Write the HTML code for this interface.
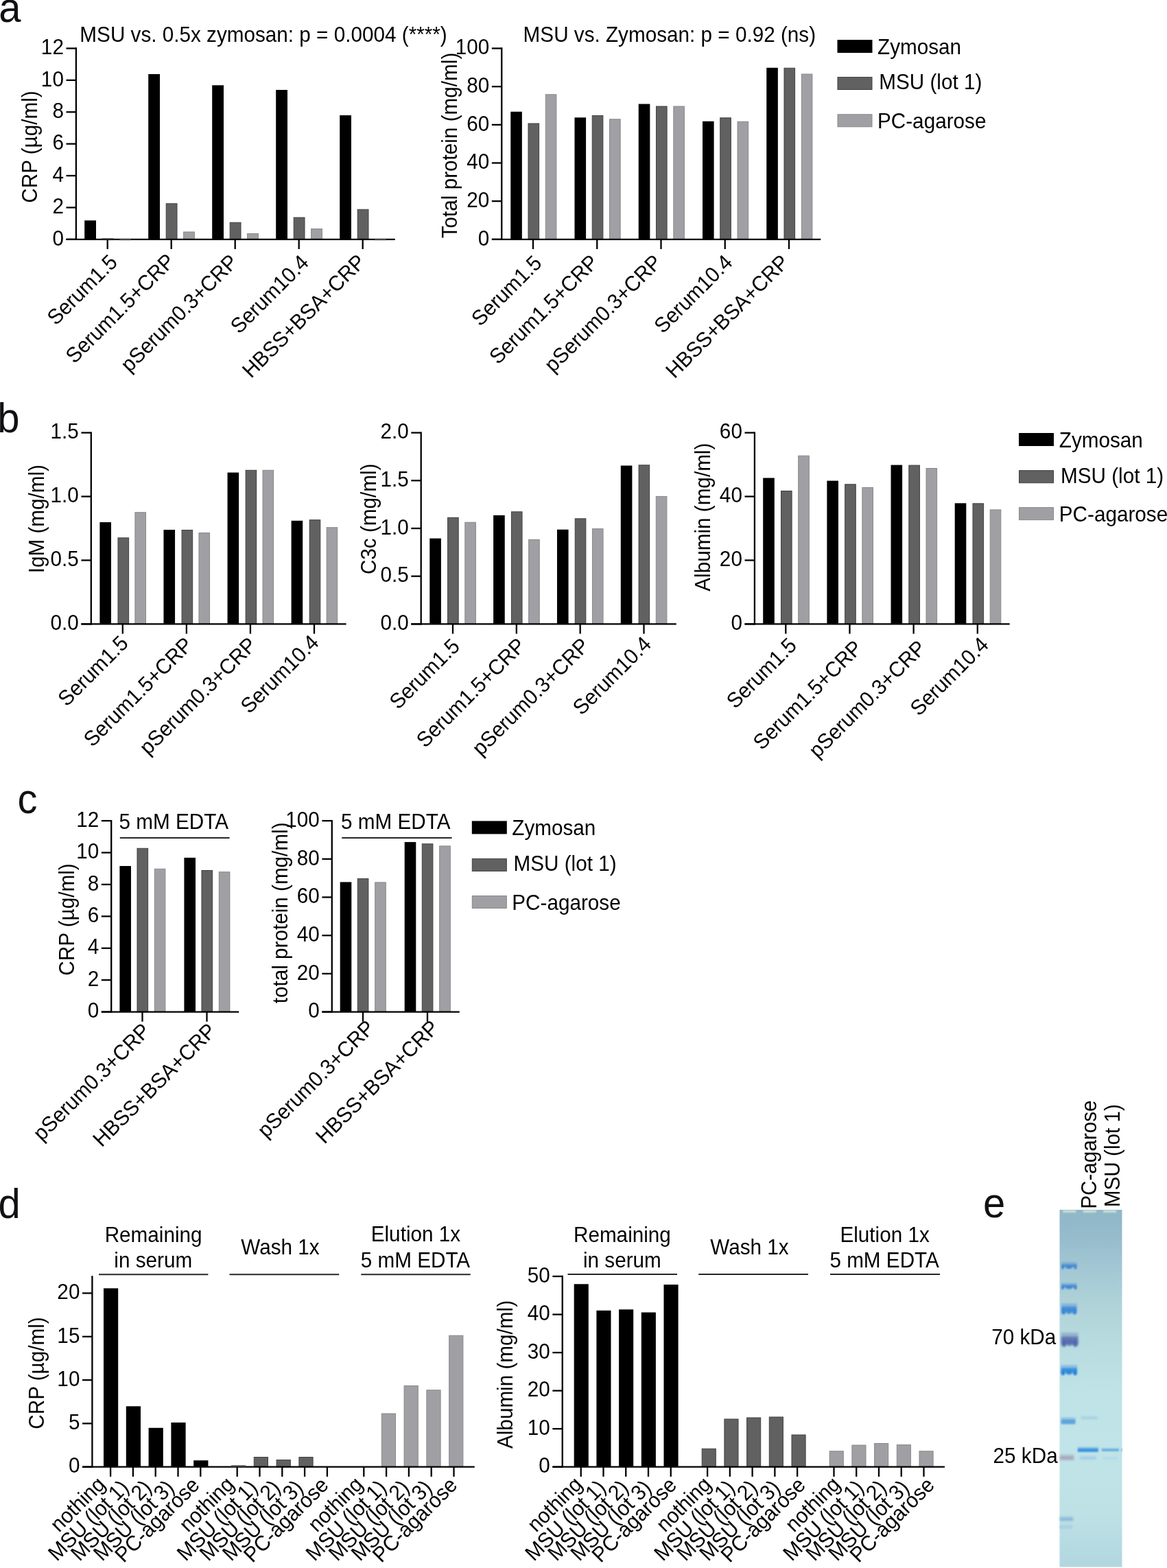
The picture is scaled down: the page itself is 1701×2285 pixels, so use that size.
<!DOCTYPE html>
<html><head><meta charset="utf-8"><title>Figure</title>
<style>
html,body{margin:0;padding:0;background:#fff;}
svg{display:block;}
text{font-family:"Liberation Sans", Arial, Helvetica, sans-serif;}
</style></head>
<body>
<svg width="1701" height="2285" viewBox="0 0 1701 2285">
<rect x="0" y="0" width="1701" height="2285" fill="#fff"/>
<text font-size="58" transform="translate(-1.80 32.20) scale(1 1.045)" fill="#111114">a</text>
<rect x="123.20" y="321.25" width="16.80" height="27.55" fill="#000000"/>
<rect x="216.20" y="108.00" width="16.80" height="240.80" fill="#000000"/>
<rect x="242.20" y="296.75" width="15.80" height="52.05" fill="#616161" stroke="#404040" stroke-width="1.0"/>
<rect x="267.60" y="338.00" width="15.80" height="10.80" fill="#a09fa4" stroke="#88888a" stroke-width="1.0"/>
<rect x="309.20" y="124.25" width="16.80" height="224.55" fill="#000000"/>
<rect x="335.20" y="324.25" width="15.80" height="24.55" fill="#616161" stroke="#404040" stroke-width="1.0"/>
<rect x="360.60" y="340.50" width="15.80" height="8.30" fill="#a09fa4" stroke="#88888a" stroke-width="1.0"/>
<rect x="402.20" y="131.00" width="16.80" height="217.80" fill="#000000"/>
<rect x="428.20" y="317.00" width="15.80" height="31.80" fill="#616161" stroke="#404040" stroke-width="1.0"/>
<rect x="453.60" y="333.50" width="15.80" height="15.30" fill="#a09fa4" stroke="#88888a" stroke-width="1.0"/>
<rect x="495.20" y="168.00" width="16.80" height="180.80" fill="#000000"/>
<rect x="521.20" y="305.25" width="15.80" height="43.55" fill="#616161" stroke="#404040" stroke-width="1.0"/>
<line x1="110.90" y1="69.35" x2="110.90" y2="349.95" stroke="#000" stroke-width="2.3" stroke-linecap="butt"/>
<line x1="96.50" y1="348.80" x2="575.75" y2="348.80" stroke="#000" stroke-width="2.3" stroke-linecap="butt"/>
<line x1="96.50" y1="348.80" x2="110.90" y2="348.80" stroke="#000" stroke-width="2.3" stroke-linecap="butt"/>
<text font-size="29.7" text-anchor="end" transform="translate(92.90 357.50) scale(1 1.045)" fill="#000">0</text>
<line x1="96.50" y1="302.42" x2="110.90" y2="302.42" stroke="#000" stroke-width="2.3" stroke-linecap="butt"/>
<text font-size="29.7" text-anchor="end" transform="translate(92.90 311.12) scale(1 1.045)" fill="#000">2</text>
<line x1="96.50" y1="256.03" x2="110.90" y2="256.03" stroke="#000" stroke-width="2.3" stroke-linecap="butt"/>
<text font-size="29.7" text-anchor="end" transform="translate(92.90 264.73) scale(1 1.045)" fill="#000">4</text>
<line x1="96.50" y1="209.65" x2="110.90" y2="209.65" stroke="#000" stroke-width="2.3" stroke-linecap="butt"/>
<text font-size="29.7" text-anchor="end" transform="translate(92.90 218.35) scale(1 1.045)" fill="#000">6</text>
<line x1="96.50" y1="163.27" x2="110.90" y2="163.27" stroke="#000" stroke-width="2.3" stroke-linecap="butt"/>
<text font-size="29.7" text-anchor="end" transform="translate(92.90 171.97) scale(1 1.045)" fill="#000">8</text>
<line x1="96.50" y1="116.88" x2="110.90" y2="116.88" stroke="#000" stroke-width="2.3" stroke-linecap="butt"/>
<text font-size="29.7" text-anchor="end" transform="translate(92.90 125.58) scale(1 1.045)" fill="#000">10</text>
<line x1="96.50" y1="70.50" x2="110.90" y2="70.50" stroke="#000" stroke-width="2.3" stroke-linecap="butt"/>
<text font-size="29.7" text-anchor="end" transform="translate(92.90 79.20) scale(1 1.045)" fill="#000">12</text>
<line x1="156.70" y1="348.80" x2="156.70" y2="363.00" stroke="#000" stroke-width="2.3" stroke-linecap="butt"/>
<line x1="249.70" y1="348.80" x2="249.70" y2="363.00" stroke="#000" stroke-width="2.3" stroke-linecap="butt"/>
<line x1="342.70" y1="348.80" x2="342.70" y2="363.00" stroke="#000" stroke-width="2.3" stroke-linecap="butt"/>
<line x1="435.70" y1="348.80" x2="435.70" y2="363.00" stroke="#000" stroke-width="2.3" stroke-linecap="butt"/>
<line x1="528.70" y1="348.80" x2="528.70" y2="363.00" stroke="#000" stroke-width="2.3" stroke-linecap="butt"/>
<text font-size="29.8" text-anchor="end" transform="translate(172.90 383.90) rotate(-45) scale(1 1.045)" fill="#000">Serum1.5</text>
<text font-size="29.8" text-anchor="end" transform="translate(256.50 382.80) rotate(-45) scale(1 1.045)" fill="#000">Serum1.5+CRP</text>
<text font-size="29.8" text-anchor="end" transform="translate(348.60 383.80) rotate(-45) scale(1 1.045)" fill="#000">pSerum0.3+CRP</text>
<text font-size="29.8" text-anchor="end" transform="translate(451.80 384.60) rotate(-45) scale(1 1.045)" fill="#000">Serum10.4</text>
<text font-size="29.8" text-anchor="end" transform="translate(534.50 383.60) rotate(-45) scale(1 1.045)" fill="#000">HBSS+BSA+CRP</text>
<rect x="149.20" y="347.70" width="15.80" height="0.80" fill="#616161" stroke="#404040" stroke-width="1.0"/>
<rect x="174.60" y="347.70" width="15.80" height="0.80" fill="#a09fa4" stroke="#88888a" stroke-width="1.0"/>
<rect x="546.60" y="347.70" width="15.80" height="0.80" fill="#a09fa4" stroke="#88888a" stroke-width="1.0"/>
<text font-size="29.7" text-anchor="middle" transform="translate(54.30 214.00) rotate(-90) scale(1 1.045)" fill="#000">CRP (µg/ml)</text>
<text font-size="29.7" transform="translate(116.35 60.75) scale(1 1.045)" fill="#000">MSU vs. 0.5x zymosan: p = 0.0004 (****)</text>
<rect x="744.25" y="162.75" width="16.60" height="186.05" fill="#000000"/>
<rect x="770.00" y="180.00" width="15.60" height="168.80" fill="#616161" stroke="#404040" stroke-width="1.0"/>
<rect x="795.30" y="137.75" width="15.60" height="211.05" fill="#a09fa4" stroke="#88888a" stroke-width="1.0"/>
<rect x="837.50" y="171.25" width="16.60" height="177.55" fill="#000000"/>
<rect x="863.25" y="168.50" width="15.60" height="180.30" fill="#616161" stroke="#404040" stroke-width="1.0"/>
<rect x="888.55" y="173.75" width="15.60" height="175.05" fill="#a09fa4" stroke="#88888a" stroke-width="1.0"/>
<rect x="930.75" y="151.50" width="16.60" height="197.30" fill="#000000"/>
<rect x="956.50" y="155.00" width="15.60" height="193.80" fill="#616161" stroke="#404040" stroke-width="1.0"/>
<rect x="981.80" y="155.00" width="15.60" height="193.80" fill="#a09fa4" stroke="#88888a" stroke-width="1.0"/>
<rect x="1024.00" y="176.75" width="16.60" height="172.05" fill="#000000"/>
<rect x="1049.75" y="171.75" width="15.60" height="177.05" fill="#616161" stroke="#404040" stroke-width="1.0"/>
<rect x="1075.05" y="177.25" width="15.60" height="171.55" fill="#a09fa4" stroke="#88888a" stroke-width="1.0"/>
<rect x="1117.25" y="98.75" width="16.60" height="250.05" fill="#000000"/>
<rect x="1143.00" y="99.25" width="15.60" height="249.55" fill="#616161" stroke="#404040" stroke-width="1.0"/>
<rect x="1168.30" y="108.00" width="15.60" height="240.80" fill="#a09fa4" stroke="#88888a" stroke-width="1.0"/>
<line x1="731.25" y1="69.35" x2="731.25" y2="349.95" stroke="#000" stroke-width="2.3" stroke-linecap="butt"/>
<line x1="716.85" y1="348.80" x2="1196.25" y2="348.80" stroke="#000" stroke-width="2.3" stroke-linecap="butt"/>
<line x1="716.85" y1="348.80" x2="731.25" y2="348.80" stroke="#000" stroke-width="2.3" stroke-linecap="butt"/>
<text font-size="29.7" text-anchor="end" transform="translate(713.25 357.50) scale(1 1.045)" fill="#000">0</text>
<line x1="716.85" y1="293.14" x2="731.25" y2="293.14" stroke="#000" stroke-width="2.3" stroke-linecap="butt"/>
<text font-size="29.7" text-anchor="end" transform="translate(713.25 301.84) scale(1 1.045)" fill="#000">20</text>
<line x1="716.85" y1="237.48" x2="731.25" y2="237.48" stroke="#000" stroke-width="2.3" stroke-linecap="butt"/>
<text font-size="29.7" text-anchor="end" transform="translate(713.25 246.18) scale(1 1.045)" fill="#000">40</text>
<line x1="716.85" y1="181.82" x2="731.25" y2="181.82" stroke="#000" stroke-width="2.3" stroke-linecap="butt"/>
<text font-size="29.7" text-anchor="end" transform="translate(713.25 190.52) scale(1 1.045)" fill="#000">60</text>
<line x1="716.85" y1="126.16" x2="731.25" y2="126.16" stroke="#000" stroke-width="2.3" stroke-linecap="butt"/>
<text font-size="29.7" text-anchor="end" transform="translate(713.25 134.86) scale(1 1.045)" fill="#000">80</text>
<line x1="716.85" y1="70.50" x2="731.25" y2="70.50" stroke="#000" stroke-width="2.3" stroke-linecap="butt"/>
<text font-size="29.7" text-anchor="end" transform="translate(713.25 79.20) scale(1 1.045)" fill="#000">100</text>
<line x1="777.00" y1="348.80" x2="777.00" y2="363.00" stroke="#000" stroke-width="2.3" stroke-linecap="butt"/>
<line x1="870.25" y1="348.80" x2="870.25" y2="363.00" stroke="#000" stroke-width="2.3" stroke-linecap="butt"/>
<line x1="963.50" y1="348.80" x2="963.50" y2="363.00" stroke="#000" stroke-width="2.3" stroke-linecap="butt"/>
<line x1="1056.75" y1="348.80" x2="1056.75" y2="363.00" stroke="#000" stroke-width="2.3" stroke-linecap="butt"/>
<line x1="1150.00" y1="348.80" x2="1150.00" y2="363.00" stroke="#000" stroke-width="2.3" stroke-linecap="butt"/>
<text font-size="29.8" text-anchor="end" transform="translate(791.40 385.30) rotate(-45) scale(1 1.045)" fill="#000">Serum1.5</text>
<text font-size="29.8" text-anchor="end" transform="translate(874.00 384.10) rotate(-45) scale(1 1.045)" fill="#000">Serum1.5+CRP</text>
<text font-size="29.8" text-anchor="end" transform="translate(966.20 384.10) rotate(-45) scale(1 1.045)" fill="#000">pSerum0.3+CRP</text>
<text font-size="29.8" text-anchor="end" transform="translate(1069.40 384.30) rotate(-45) scale(1 1.045)" fill="#000">Serum10.4</text>
<text font-size="29.8" text-anchor="end" transform="translate(1151.80 384.10) rotate(-45) scale(1 1.045)" fill="#000">HBSS+BSA+CRP</text>
<text font-size="29.7" text-anchor="middle" transform="translate(665.80 212.00) rotate(-90) scale(1 1.045)" fill="#000">Total protein (mg/ml)</text>
<text font-size="29.7" transform="translate(762.60 60.75) scale(1 1.045)" fill="#000">MSU vs. Zymosan: p = 0.92 (ns)</text>
<rect x="1220.50" y="58.00" width="51.00" height="19.00" fill="#000000"/>
<text font-size="29.7" transform="translate(1279.00 78.60) scale(1 1.045)" fill="#000">Zymosan</text>
<rect x="1221.00" y="112.50" width="50.00" height="18.00" fill="#616161" stroke="#404040" stroke-width="1.0"/>
<text font-size="29.7" transform="translate(1281.20 130.30) scale(1 1.045)" fill="#000">MSU (lot 1)</text>
<rect x="1221.00" y="166.75" width="50.00" height="18.00" fill="#a09fa4" stroke="#88888a" stroke-width="1.0"/>
<text font-size="29.7" transform="translate(1279.00 186.85) scale(1 1.045)" fill="#000">PC-agarose</text>
<text font-size="58" transform="translate(-3.80 630.00) scale(1 1.045)" fill="#111114">b</text>
<rect x="145.40" y="761.00" width="16.60" height="148.40" fill="#000000"/>
<rect x="172.00" y="783.80" width="15.60" height="125.60" fill="#616161" stroke="#404040" stroke-width="1.0"/>
<rect x="196.90" y="746.70" width="15.60" height="162.70" fill="#a09fa4" stroke="#88888a" stroke-width="1.0"/>
<rect x="238.47" y="772.00" width="16.60" height="137.40" fill="#000000"/>
<rect x="265.07" y="772.50" width="15.60" height="136.90" fill="#616161" stroke="#404040" stroke-width="1.0"/>
<rect x="289.97" y="776.60" width="15.60" height="132.80" fill="#a09fa4" stroke="#88888a" stroke-width="1.0"/>
<rect x="331.54" y="688.60" width="16.60" height="220.80" fill="#000000"/>
<rect x="358.14" y="685.30" width="15.60" height="224.10" fill="#616161" stroke="#404040" stroke-width="1.0"/>
<rect x="383.04" y="685.30" width="15.60" height="224.10" fill="#a09fa4" stroke="#88888a" stroke-width="1.0"/>
<rect x="424.61" y="758.80" width="16.60" height="150.60" fill="#000000"/>
<rect x="451.21" y="757.70" width="15.60" height="151.70" fill="#616161" stroke="#404040" stroke-width="1.0"/>
<rect x="476.11" y="768.70" width="15.60" height="140.70" fill="#a09fa4" stroke="#88888a" stroke-width="1.0"/>
<line x1="132.80" y1="629.45" x2="132.80" y2="910.55" stroke="#000" stroke-width="2.3" stroke-linecap="butt"/>
<line x1="118.40" y1="909.40" x2="504.60" y2="909.40" stroke="#000" stroke-width="2.3" stroke-linecap="butt"/>
<line x1="118.40" y1="909.40" x2="132.80" y2="909.40" stroke="#000" stroke-width="2.3" stroke-linecap="butt"/>
<text font-size="29.7" text-anchor="end" transform="translate(114.80 918.10) scale(1 1.045)" fill="#000">0.0</text>
<line x1="118.40" y1="816.47" x2="132.80" y2="816.47" stroke="#000" stroke-width="2.3" stroke-linecap="butt"/>
<text font-size="29.7" text-anchor="end" transform="translate(114.80 825.17) scale(1 1.045)" fill="#000">0.5</text>
<line x1="118.40" y1="723.53" x2="132.80" y2="723.53" stroke="#000" stroke-width="2.3" stroke-linecap="butt"/>
<text font-size="29.7" text-anchor="end" transform="translate(114.80 732.23) scale(1 1.045)" fill="#000">1.0</text>
<line x1="118.40" y1="630.60" x2="132.80" y2="630.60" stroke="#000" stroke-width="2.3" stroke-linecap="butt"/>
<text font-size="29.7" text-anchor="end" transform="translate(114.80 639.30) scale(1 1.045)" fill="#000">1.5</text>
<line x1="178.80" y1="909.40" x2="178.80" y2="923.60" stroke="#000" stroke-width="2.3" stroke-linecap="butt"/>
<line x1="271.87" y1="909.40" x2="271.87" y2="923.60" stroke="#000" stroke-width="2.3" stroke-linecap="butt"/>
<line x1="364.94" y1="909.40" x2="364.94" y2="923.60" stroke="#000" stroke-width="2.3" stroke-linecap="butt"/>
<line x1="458.01" y1="909.40" x2="458.01" y2="923.60" stroke="#000" stroke-width="2.3" stroke-linecap="butt"/>
<text font-size="29.8" text-anchor="end" transform="translate(188.70 939.30) rotate(-45) scale(1 1.045)" fill="#000">Serum1.5</text>
<text font-size="29.8" text-anchor="end" transform="translate(282.80 941.70) rotate(-45) scale(1 1.045)" fill="#000">Serum1.5+CRP</text>
<text font-size="29.8" text-anchor="end" transform="translate(375.90 941.70) rotate(-45) scale(1 1.045)" fill="#000">pSerum0.3+CRP</text>
<text font-size="29.8" text-anchor="end" transform="translate(466.50 938.30) rotate(-45) scale(1 1.045)" fill="#000">Serum10.4</text>
<text font-size="29.7" text-anchor="middle" transform="translate(63.80 756.20) rotate(-90) scale(1 1.045)" fill="#000">IgM (mg/ml)</text>
<rect x="626.30" y="784.60" width="16.60" height="124.80" fill="#000000"/>
<rect x="652.60" y="754.25" width="15.60" height="155.15" fill="#616161" stroke="#404040" stroke-width="1.0"/>
<rect x="677.80" y="761.20" width="15.60" height="148.20" fill="#a09fa4" stroke="#88888a" stroke-width="1.0"/>
<rect x="719.13" y="750.90" width="16.60" height="158.50" fill="#000000"/>
<rect x="745.43" y="745.80" width="15.60" height="163.60" fill="#616161" stroke="#404040" stroke-width="1.0"/>
<rect x="770.63" y="786.40" width="15.60" height="123.00" fill="#a09fa4" stroke="#88888a" stroke-width="1.0"/>
<rect x="811.96" y="771.70" width="16.60" height="137.70" fill="#000000"/>
<rect x="838.26" y="755.80" width="15.60" height="153.60" fill="#616161" stroke="#404040" stroke-width="1.0"/>
<rect x="863.46" y="770.60" width="15.60" height="138.80" fill="#a09fa4" stroke="#88888a" stroke-width="1.0"/>
<rect x="904.79" y="678.50" width="16.60" height="230.90" fill="#000000"/>
<rect x="931.09" y="677.80" width="15.60" height="231.60" fill="#616161" stroke="#404040" stroke-width="1.0"/>
<rect x="956.29" y="723.40" width="15.60" height="186.00" fill="#a09fa4" stroke="#88888a" stroke-width="1.0"/>
<line x1="613.70" y1="629.45" x2="613.70" y2="910.55" stroke="#000" stroke-width="2.3" stroke-linecap="butt"/>
<line x1="599.30" y1="909.40" x2="985.80" y2="909.40" stroke="#000" stroke-width="2.3" stroke-linecap="butt"/>
<line x1="599.30" y1="909.40" x2="613.70" y2="909.40" stroke="#000" stroke-width="2.3" stroke-linecap="butt"/>
<text font-size="29.7" text-anchor="end" transform="translate(595.70 918.10) scale(1 1.045)" fill="#000">0.0</text>
<line x1="599.30" y1="839.70" x2="613.70" y2="839.70" stroke="#000" stroke-width="2.3" stroke-linecap="butt"/>
<text font-size="29.7" text-anchor="end" transform="translate(595.70 848.40) scale(1 1.045)" fill="#000">0.5</text>
<line x1="599.30" y1="770.00" x2="613.70" y2="770.00" stroke="#000" stroke-width="2.3" stroke-linecap="butt"/>
<text font-size="29.7" text-anchor="end" transform="translate(595.70 778.70) scale(1 1.045)" fill="#000">1.0</text>
<line x1="599.30" y1="700.30" x2="613.70" y2="700.30" stroke="#000" stroke-width="2.3" stroke-linecap="butt"/>
<text font-size="29.7" text-anchor="end" transform="translate(595.70 709.00) scale(1 1.045)" fill="#000">1.5</text>
<line x1="599.30" y1="630.60" x2="613.70" y2="630.60" stroke="#000" stroke-width="2.3" stroke-linecap="butt"/>
<text font-size="29.7" text-anchor="end" transform="translate(595.70 639.30) scale(1 1.045)" fill="#000">2.0</text>
<line x1="660.00" y1="909.40" x2="660.00" y2="923.60" stroke="#000" stroke-width="2.3" stroke-linecap="butt"/>
<line x1="752.83" y1="909.40" x2="752.83" y2="923.60" stroke="#000" stroke-width="2.3" stroke-linecap="butt"/>
<line x1="845.66" y1="909.40" x2="845.66" y2="923.60" stroke="#000" stroke-width="2.3" stroke-linecap="butt"/>
<line x1="938.49" y1="909.40" x2="938.49" y2="923.60" stroke="#000" stroke-width="2.3" stroke-linecap="butt"/>
<text font-size="29.8" text-anchor="end" transform="translate(671.90 943.70) rotate(-45) scale(1 1.045)" fill="#000">Serum1.5</text>
<text font-size="29.8" text-anchor="end" transform="translate(767.80 942.80) rotate(-45) scale(1 1.045)" fill="#000">Serum1.5+CRP</text>
<text font-size="29.8" text-anchor="end" transform="translate(860.90 942.80) rotate(-45) scale(1 1.045)" fill="#000">pSerum0.3+CRP</text>
<text font-size="29.8" text-anchor="end" transform="translate(950.90 940.50) rotate(-45) scale(1 1.045)" fill="#000">Serum10.4</text>
<text font-size="29.7" text-anchor="middle" transform="translate(548.00 756.30) rotate(-90) scale(1 1.045)" fill="#000">C3c (mg/ml)</text>
<rect x="1112.20" y="696.50" width="16.60" height="212.90" fill="#000000"/>
<rect x="1138.50" y="715.50" width="15.60" height="193.90" fill="#616161" stroke="#404040" stroke-width="1.0"/>
<rect x="1163.70" y="664.20" width="15.60" height="245.20" fill="#a09fa4" stroke="#88888a" stroke-width="1.0"/>
<rect x="1205.37" y="700.60" width="16.60" height="208.80" fill="#000000"/>
<rect x="1231.67" y="705.80" width="15.60" height="203.60" fill="#616161" stroke="#404040" stroke-width="1.0"/>
<rect x="1256.87" y="710.50" width="15.60" height="198.90" fill="#a09fa4" stroke="#88888a" stroke-width="1.0"/>
<rect x="1298.54" y="677.60" width="16.60" height="231.80" fill="#000000"/>
<rect x="1324.84" y="678.10" width="15.60" height="231.30" fill="#616161" stroke="#404040" stroke-width="1.0"/>
<rect x="1350.04" y="682.50" width="15.60" height="226.90" fill="#a09fa4" stroke="#88888a" stroke-width="1.0"/>
<rect x="1391.71" y="733.30" width="16.60" height="176.10" fill="#000000"/>
<rect x="1418.01" y="733.80" width="15.60" height="175.60" fill="#616161" stroke="#404040" stroke-width="1.0"/>
<rect x="1443.21" y="742.90" width="15.60" height="166.50" fill="#a09fa4" stroke="#88888a" stroke-width="1.0"/>
<line x1="1099.90" y1="629.45" x2="1099.90" y2="910.55" stroke="#000" stroke-width="2.3" stroke-linecap="butt"/>
<line x1="1085.50" y1="909.40" x2="1471.70" y2="909.40" stroke="#000" stroke-width="2.3" stroke-linecap="butt"/>
<line x1="1085.50" y1="909.40" x2="1099.90" y2="909.40" stroke="#000" stroke-width="2.3" stroke-linecap="butt"/>
<text font-size="29.7" text-anchor="end" transform="translate(1081.90 918.10) scale(1 1.045)" fill="#000">0</text>
<line x1="1085.50" y1="816.47" x2="1099.90" y2="816.47" stroke="#000" stroke-width="2.3" stroke-linecap="butt"/>
<text font-size="29.7" text-anchor="end" transform="translate(1081.90 825.17) scale(1 1.045)" fill="#000">20</text>
<line x1="1085.50" y1="723.53" x2="1099.90" y2="723.53" stroke="#000" stroke-width="2.3" stroke-linecap="butt"/>
<text font-size="29.7" text-anchor="end" transform="translate(1081.90 732.23) scale(1 1.045)" fill="#000">40</text>
<line x1="1085.50" y1="630.60" x2="1099.90" y2="630.60" stroke="#000" stroke-width="2.3" stroke-linecap="butt"/>
<text font-size="29.7" text-anchor="end" transform="translate(1081.90 639.30) scale(1 1.045)" fill="#000">60</text>
<line x1="1145.30" y1="909.40" x2="1145.30" y2="923.60" stroke="#000" stroke-width="2.3" stroke-linecap="butt"/>
<line x1="1238.47" y1="909.40" x2="1238.47" y2="923.60" stroke="#000" stroke-width="2.3" stroke-linecap="butt"/>
<line x1="1331.64" y1="909.40" x2="1331.64" y2="923.60" stroke="#000" stroke-width="2.3" stroke-linecap="butt"/>
<line x1="1424.81" y1="909.40" x2="1424.81" y2="923.60" stroke="#000" stroke-width="2.3" stroke-linecap="butt"/>
<text font-size="29.8" text-anchor="end" transform="translate(1163.00 942.60) rotate(-45) scale(1 1.045)" fill="#000">Serum1.5</text>
<text font-size="29.8" text-anchor="end" transform="translate(1258.70 946.10) rotate(-45) scale(1 1.045)" fill="#000">Serum1.5+CRP</text>
<text font-size="29.8" text-anchor="end" transform="translate(1351.60 946.10) rotate(-45) scale(1 1.045)" fill="#000">pSerum0.3+CRP</text>
<text font-size="29.8" text-anchor="end" transform="translate(1442.60 941.60) rotate(-45) scale(1 1.045)" fill="#000">Serum10.4</text>
<text font-size="29.7" text-anchor="middle" transform="translate(1034.80 753.70) rotate(-90) scale(1 1.045)" fill="#000">Albumin (mg/ml)</text>
<rect x="1485.00" y="631.00" width="51.00" height="19.00" fill="#000000"/>
<text font-size="29.7" transform="translate(1543.80 651.60) scale(1 1.045)" fill="#000">Zymosan</text>
<rect x="1485.50" y="685.70" width="50.00" height="18.00" fill="#616161" stroke="#404040" stroke-width="1.0"/>
<text font-size="29.7" transform="translate(1546.00 703.50) scale(1 1.045)" fill="#000">MSU (lot 1)</text>
<rect x="1485.50" y="739.60" width="50.00" height="18.00" fill="#a09fa4" stroke="#88888a" stroke-width="1.0"/>
<text font-size="29.7" transform="translate(1543.80 759.70) scale(1 1.045)" fill="#000">PC-agarose</text>
<text font-size="58" transform="translate(25.40 1185.20) scale(1 1.045)" fill="#111114">c</text>
<rect x="174.40" y="1262.00" width="16.60" height="212.60" fill="#000000"/>
<rect x="200.00" y="1236.30" width="15.60" height="238.30" fill="#616161" stroke="#404040" stroke-width="1.0"/>
<rect x="225.30" y="1266.30" width="15.60" height="208.30" fill="#a09fa4" stroke="#88888a" stroke-width="1.0"/>
<rect x="268.40" y="1249.90" width="16.60" height="224.70" fill="#000000"/>
<rect x="294.00" y="1268.50" width="15.60" height="206.10" fill="#616161" stroke="#404040" stroke-width="1.0"/>
<rect x="319.30" y="1270.70" width="15.60" height="203.90" fill="#a09fa4" stroke="#88888a" stroke-width="1.0"/>
<line x1="162.20" y1="1194.95" x2="162.20" y2="1475.75" stroke="#000" stroke-width="2.3" stroke-linecap="butt"/>
<line x1="147.80" y1="1474.60" x2="348.20" y2="1474.60" stroke="#000" stroke-width="2.3" stroke-linecap="butt"/>
<line x1="147.80" y1="1474.60" x2="162.20" y2="1474.60" stroke="#000" stroke-width="2.3" stroke-linecap="butt"/>
<text font-size="29.7" text-anchor="end" transform="translate(144.20 1483.30) scale(1 1.045)" fill="#000">0</text>
<line x1="147.80" y1="1428.18" x2="162.20" y2="1428.18" stroke="#000" stroke-width="2.3" stroke-linecap="butt"/>
<text font-size="29.7" text-anchor="end" transform="translate(144.20 1436.88) scale(1 1.045)" fill="#000">2</text>
<line x1="147.80" y1="1381.77" x2="162.20" y2="1381.77" stroke="#000" stroke-width="2.3" stroke-linecap="butt"/>
<text font-size="29.7" text-anchor="end" transform="translate(144.20 1390.47) scale(1 1.045)" fill="#000">4</text>
<line x1="147.80" y1="1335.35" x2="162.20" y2="1335.35" stroke="#000" stroke-width="2.3" stroke-linecap="butt"/>
<text font-size="29.7" text-anchor="end" transform="translate(144.20 1344.05) scale(1 1.045)" fill="#000">6</text>
<line x1="147.80" y1="1288.93" x2="162.20" y2="1288.93" stroke="#000" stroke-width="2.3" stroke-linecap="butt"/>
<text font-size="29.7" text-anchor="end" transform="translate(144.20 1297.63) scale(1 1.045)" fill="#000">8</text>
<line x1="147.80" y1="1242.52" x2="162.20" y2="1242.52" stroke="#000" stroke-width="2.3" stroke-linecap="butt"/>
<text font-size="29.7" text-anchor="end" transform="translate(144.20 1251.22) scale(1 1.045)" fill="#000">10</text>
<line x1="147.80" y1="1196.10" x2="162.20" y2="1196.10" stroke="#000" stroke-width="2.3" stroke-linecap="butt"/>
<text font-size="29.7" text-anchor="end" transform="translate(144.20 1204.80) scale(1 1.045)" fill="#000">12</text>
<line x1="207.50" y1="1474.60" x2="207.50" y2="1488.80" stroke="#000" stroke-width="2.3" stroke-linecap="butt"/>
<line x1="301.50" y1="1474.60" x2="301.50" y2="1488.80" stroke="#000" stroke-width="2.3" stroke-linecap="butt"/>
<text font-size="29.8" text-anchor="end" transform="translate(220.90 1504.20) rotate(-45) scale(1 1.045)" fill="#000">pSerum0.3+CRP</text>
<text font-size="29.8" text-anchor="end" transform="translate(316.90 1504.20) rotate(-45) scale(1 1.045)" fill="#000">HBSS+BSA+CRP</text>
<text font-size="29.7" text-anchor="middle" transform="translate(107.80 1340.00) rotate(-90) scale(1 1.045)" fill="#000">CRP (µg/ml)</text>
<text font-size="29.7" transform="translate(173.60 1208.00) scale(1 1.045)" fill="#000">5 mM EDTA</text>
<line x1="174.80" y1="1221.00" x2="334.60" y2="1221.00" stroke="#262626" stroke-width="2.0" stroke-linecap="butt"/>
<rect x="495.70" y="1285.40" width="16.60" height="189.20" fill="#000000"/>
<rect x="521.30" y="1280.40" width="15.60" height="194.20" fill="#616161" stroke="#404040" stroke-width="1.0"/>
<rect x="546.70" y="1285.90" width="15.60" height="188.70" fill="#a09fa4" stroke="#88888a" stroke-width="1.0"/>
<rect x="589.70" y="1227.10" width="16.60" height="247.50" fill="#000000"/>
<rect x="615.30" y="1229.80" width="15.60" height="244.80" fill="#616161" stroke="#404040" stroke-width="1.0"/>
<rect x="640.70" y="1232.90" width="15.60" height="241.70" fill="#a09fa4" stroke="#88888a" stroke-width="1.0"/>
<line x1="483.80" y1="1194.95" x2="483.80" y2="1475.75" stroke="#000" stroke-width="2.3" stroke-linecap="butt"/>
<line x1="469.40" y1="1474.60" x2="669.80" y2="1474.60" stroke="#000" stroke-width="2.3" stroke-linecap="butt"/>
<line x1="469.40" y1="1474.60" x2="483.80" y2="1474.60" stroke="#000" stroke-width="2.3" stroke-linecap="butt"/>
<text font-size="29.7" text-anchor="end" transform="translate(465.80 1483.30) scale(1 1.045)" fill="#000">0</text>
<line x1="469.40" y1="1418.90" x2="483.80" y2="1418.90" stroke="#000" stroke-width="2.3" stroke-linecap="butt"/>
<text font-size="29.7" text-anchor="end" transform="translate(465.80 1427.60) scale(1 1.045)" fill="#000">20</text>
<line x1="469.40" y1="1363.20" x2="483.80" y2="1363.20" stroke="#000" stroke-width="2.3" stroke-linecap="butt"/>
<text font-size="29.7" text-anchor="end" transform="translate(465.80 1371.90) scale(1 1.045)" fill="#000">40</text>
<line x1="469.40" y1="1307.50" x2="483.80" y2="1307.50" stroke="#000" stroke-width="2.3" stroke-linecap="butt"/>
<text font-size="29.7" text-anchor="end" transform="translate(465.80 1316.20) scale(1 1.045)" fill="#000">60</text>
<line x1="469.40" y1="1251.80" x2="483.80" y2="1251.80" stroke="#000" stroke-width="2.3" stroke-linecap="butt"/>
<text font-size="29.7" text-anchor="end" transform="translate(465.80 1260.50) scale(1 1.045)" fill="#000">80</text>
<line x1="469.40" y1="1196.10" x2="483.80" y2="1196.10" stroke="#000" stroke-width="2.3" stroke-linecap="butt"/>
<text font-size="29.7" text-anchor="end" transform="translate(465.80 1204.80) scale(1 1.045)" fill="#000">100</text>
<line x1="529.00" y1="1474.60" x2="529.00" y2="1488.80" stroke="#000" stroke-width="2.3" stroke-linecap="butt"/>
<line x1="623.00" y1="1474.60" x2="623.00" y2="1488.80" stroke="#000" stroke-width="2.3" stroke-linecap="butt"/>
<text font-size="29.8" text-anchor="end" transform="translate(547.80 1499.60) rotate(-45) scale(1 1.045)" fill="#000">pSerum0.3+CRP</text>
<text font-size="29.8" text-anchor="end" transform="translate(641.60 1499.60) rotate(-45) scale(1 1.045)" fill="#000">HBSS+BSA+CRP</text>
<text font-size="29.7" text-anchor="middle" transform="translate(418.70 1330.40) rotate(-90) scale(1 1.045)" fill="#000">total protein (mg/ml)</text>
<text font-size="29.7" transform="translate(497.10 1208.00) scale(1 1.045)" fill="#000">5 mM EDTA</text>
<line x1="498.30" y1="1221.00" x2="658.60" y2="1221.00" stroke="#262626" stroke-width="2.0" stroke-linecap="butt"/>
<rect x="687.80" y="1196.40" width="51.00" height="19.00" fill="#000000"/>
<text font-size="29.7" transform="translate(746.30 1217.00) scale(1 1.045)" fill="#000">Zymosan</text>
<rect x="688.30" y="1251.40" width="50.00" height="18.00" fill="#616161" stroke="#404040" stroke-width="1.0"/>
<text font-size="29.7" transform="translate(748.50 1269.20) scale(1 1.045)" fill="#000">MSU (lot 1)</text>
<rect x="688.30" y="1305.50" width="50.00" height="18.00" fill="#a09fa4" stroke="#88888a" stroke-width="1.0"/>
<text font-size="29.7" transform="translate(746.30 1325.60) scale(1 1.045)" fill="#000">PC-agarose</text>
<text font-size="58" transform="translate(-2.40 1775.10) scale(1 1.045)" fill="#111114">d</text>
<rect x="151.00" y="1877.40" width="21.20" height="260.30" fill="#000000"/>
<rect x="183.80" y="2049.30" width="21.20" height="88.40" fill="#000000"/>
<rect x="216.60" y="2080.80" width="21.20" height="56.90" fill="#000000"/>
<rect x="249.40" y="2073.00" width="21.20" height="64.70" fill="#000000"/>
<rect x="282.20" y="2128.20" width="21.20" height="9.50" fill="#000000"/>
<rect x="370.30" y="2123.50" width="20.20" height="14.20" fill="#616161" stroke="#404040" stroke-width="1.0"/>
<rect x="403.10" y="2127.50" width="20.20" height="10.20" fill="#616161" stroke="#404040" stroke-width="1.0"/>
<rect x="435.90" y="2123.50" width="20.20" height="14.20" fill="#616161" stroke="#404040" stroke-width="1.0"/>
<rect x="556.30" y="2060.00" width="20.20" height="77.70" fill="#a09fa4" stroke="#88888a" stroke-width="1.0"/>
<rect x="589.10" y="2019.50" width="20.20" height="118.20" fill="#a09fa4" stroke="#88888a" stroke-width="1.0"/>
<rect x="621.90" y="2025.75" width="20.20" height="111.95" fill="#a09fa4" stroke="#88888a" stroke-width="1.0"/>
<rect x="654.70" y="1946.25" width="20.20" height="191.45" fill="#a09fa4" stroke="#88888a" stroke-width="1.0"/>
<line x1="134.40" y1="1859.20" x2="134.40" y2="2138.85" stroke="#000" stroke-width="2.3" stroke-linecap="butt"/>
<line x1="120.00" y1="2137.70" x2="691.75" y2="2137.70" stroke="#000" stroke-width="2.3" stroke-linecap="butt"/>
<line x1="120.00" y1="2137.70" x2="134.40" y2="2137.70" stroke="#000" stroke-width="2.3" stroke-linecap="butt"/>
<text font-size="29.7" text-anchor="end" transform="translate(116.40 2146.40) scale(1 1.045)" fill="#000">0</text>
<line x1="120.00" y1="2074.40" x2="134.40" y2="2074.40" stroke="#000" stroke-width="2.3" stroke-linecap="butt"/>
<text font-size="29.7" text-anchor="end" transform="translate(116.40 2083.10) scale(1 1.045)" fill="#000">5</text>
<line x1="120.00" y1="2011.10" x2="134.40" y2="2011.10" stroke="#000" stroke-width="2.3" stroke-linecap="butt"/>
<text font-size="29.7" text-anchor="end" transform="translate(116.40 2019.80) scale(1 1.045)" fill="#000">10</text>
<line x1="120.00" y1="1947.80" x2="134.40" y2="1947.80" stroke="#000" stroke-width="2.3" stroke-linecap="butt"/>
<text font-size="29.7" text-anchor="end" transform="translate(116.40 1956.50) scale(1 1.045)" fill="#000">15</text>
<line x1="120.00" y1="1884.50" x2="134.40" y2="1884.50" stroke="#000" stroke-width="2.3" stroke-linecap="butt"/>
<text font-size="29.7" text-anchor="end" transform="translate(116.40 1893.20) scale(1 1.045)" fill="#000">20</text>
<line x1="161.10" y1="2137.70" x2="161.10" y2="2151.90" stroke="#000" stroke-width="2.3" stroke-linecap="butt"/>
<line x1="193.90" y1="2137.70" x2="193.90" y2="2151.90" stroke="#000" stroke-width="2.3" stroke-linecap="butt"/>
<line x1="226.70" y1="2137.70" x2="226.70" y2="2151.90" stroke="#000" stroke-width="2.3" stroke-linecap="butt"/>
<line x1="259.50" y1="2137.70" x2="259.50" y2="2151.90" stroke="#000" stroke-width="2.3" stroke-linecap="butt"/>
<line x1="292.30" y1="2137.70" x2="292.30" y2="2151.90" stroke="#000" stroke-width="2.3" stroke-linecap="butt"/>
<line x1="345.70" y1="2137.70" x2="345.70" y2="2151.90" stroke="#000" stroke-width="2.3" stroke-linecap="butt"/>
<line x1="378.50" y1="2137.70" x2="378.50" y2="2151.90" stroke="#000" stroke-width="2.3" stroke-linecap="butt"/>
<line x1="411.30" y1="2137.70" x2="411.30" y2="2151.90" stroke="#000" stroke-width="2.3" stroke-linecap="butt"/>
<line x1="444.10" y1="2137.70" x2="444.10" y2="2151.90" stroke="#000" stroke-width="2.3" stroke-linecap="butt"/>
<line x1="476.90" y1="2137.70" x2="476.90" y2="2151.90" stroke="#000" stroke-width="2.3" stroke-linecap="butt"/>
<line x1="530.30" y1="2137.70" x2="530.30" y2="2151.90" stroke="#000" stroke-width="2.3" stroke-linecap="butt"/>
<line x1="563.10" y1="2137.70" x2="563.10" y2="2151.90" stroke="#000" stroke-width="2.3" stroke-linecap="butt"/>
<line x1="595.90" y1="2137.70" x2="595.90" y2="2151.90" stroke="#000" stroke-width="2.3" stroke-linecap="butt"/>
<line x1="628.70" y1="2137.70" x2="628.70" y2="2151.90" stroke="#000" stroke-width="2.3" stroke-linecap="butt"/>
<line x1="661.50" y1="2137.70" x2="661.50" y2="2151.90" stroke="#000" stroke-width="2.3" stroke-linecap="butt"/>
<text font-size="29.8" text-anchor="end" transform="translate(155.20 2165.00) rotate(-45) scale(1 1.045)" fill="#000">nothing</text>
<text font-size="29.8" text-anchor="end" transform="translate(189.50 2169.70) rotate(-45) scale(1 1.045)" fill="#000">MSU (lot 1)</text>
<text font-size="29.8" text-anchor="end" transform="translate(222.55 2169.70) rotate(-45) scale(1 1.045)" fill="#000">MSU (lot 2)</text>
<text font-size="29.8" text-anchor="end" transform="translate(255.60 2169.70) rotate(-45) scale(1 1.045)" fill="#000">MSU (lot 3)</text>
<text font-size="29.8" text-anchor="end" transform="translate(292.60 2166.00) rotate(-45) scale(1 1.045)" fill="#000">PC-agarose</text>
<text font-size="29.8" text-anchor="end" transform="translate(343.00 2165.00) rotate(-45) scale(1 1.045)" fill="#000">nothing</text>
<text font-size="29.8" text-anchor="end" transform="translate(377.30 2169.70) rotate(-45) scale(1 1.045)" fill="#000">MSU (lot 1)</text>
<text font-size="29.8" text-anchor="end" transform="translate(410.35 2169.70) rotate(-45) scale(1 1.045)" fill="#000">MSU (lot 2)</text>
<text font-size="29.8" text-anchor="end" transform="translate(443.40 2169.70) rotate(-45) scale(1 1.045)" fill="#000">MSU (lot 3)</text>
<text font-size="29.8" text-anchor="end" transform="translate(480.40 2166.00) rotate(-45) scale(1 1.045)" fill="#000">PC-agarose</text>
<text font-size="29.8" text-anchor="end" transform="translate(530.80 2165.00) rotate(-45) scale(1 1.045)" fill="#000">nothing</text>
<text font-size="29.8" text-anchor="end" transform="translate(565.10 2169.70) rotate(-45) scale(1 1.045)" fill="#000">MSU (lot 1)</text>
<text font-size="29.8" text-anchor="end" transform="translate(598.15 2169.70) rotate(-45) scale(1 1.045)" fill="#000">MSU (lot 2)</text>
<text font-size="29.8" text-anchor="end" transform="translate(631.20 2169.70) rotate(-45) scale(1 1.045)" fill="#000">MSU (lot 3)</text>
<text font-size="29.8" text-anchor="end" transform="translate(668.20 2166.00) rotate(-45) scale(1 1.045)" fill="#000">PC-agarose</text>
<rect x="337.50" y="2135.90" width="20.20" height="1.20" fill="#616161" stroke="#404040" stroke-width="1.0"/>
<text font-size="29.7" text-anchor="middle" transform="translate(64.20 2001.00) rotate(-90) scale(1 1.045)" fill="#000">CRP (µg/ml)</text>
<text font-size="29.7" text-anchor="middle" transform="translate(223.60 1810.00) scale(1 1.045)" fill="#000">Remaining</text>
<text font-size="29.7" text-anchor="middle" transform="translate(223.20 1846.60) scale(1 1.045)" fill="#000">in serum</text>
<line x1="144.00" y1="1857.20" x2="303.40" y2="1857.20" stroke="#262626" stroke-width="2.0" stroke-linecap="butt"/>
<text font-size="29.7" text-anchor="middle" transform="translate(408.40 1828.30) scale(1 1.045)" fill="#000">Wash 1x</text>
<line x1="334.50" y1="1857.20" x2="494.25" y2="1857.20" stroke="#262626" stroke-width="2.0" stroke-linecap="butt"/>
<text font-size="29.7" text-anchor="middle" transform="translate(605.90 1809.40) scale(1 1.045)" fill="#000">Elution 1x</text>
<text font-size="29.7" text-anchor="middle" transform="translate(605.40 1847.00) scale(1 1.045)" fill="#000">5 mM EDTA</text>
<line x1="526.25" y1="1857.20" x2="685.75" y2="1857.20" stroke="#262626" stroke-width="2.0" stroke-linecap="butt"/>
<rect x="836.70" y="1871.25" width="21.10" height="266.45" fill="#000000"/>
<rect x="869.40" y="1909.75" width="21.10" height="227.95" fill="#000000"/>
<rect x="902.10" y="1908.25" width="21.10" height="229.45" fill="#000000"/>
<rect x="934.80" y="1912.50" width="21.10" height="225.20" fill="#000000"/>
<rect x="967.50" y="1872.00" width="21.10" height="265.70" fill="#000000"/>
<rect x="1023.20" y="2111.25" width="20.10" height="26.45" fill="#616161" stroke="#404040" stroke-width="1.0"/>
<rect x="1055.90" y="2068.00" width="20.10" height="69.70" fill="#616161" stroke="#404040" stroke-width="1.0"/>
<rect x="1088.60" y="2066.00" width="20.10" height="71.70" fill="#616161" stroke="#404040" stroke-width="1.0"/>
<rect x="1121.30" y="2065.00" width="20.10" height="72.70" fill="#616161" stroke="#404040" stroke-width="1.0"/>
<rect x="1154.00" y="2091.00" width="20.10" height="46.70" fill="#616161" stroke="#404040" stroke-width="1.0"/>
<rect x="1209.20" y="2114.75" width="20.10" height="22.95" fill="#a09fa4" stroke="#88888a" stroke-width="1.0"/>
<rect x="1241.90" y="2106.00" width="20.10" height="31.70" fill="#a09fa4" stroke="#88888a" stroke-width="1.0"/>
<rect x="1274.60" y="2103.50" width="20.10" height="34.20" fill="#a09fa4" stroke="#88888a" stroke-width="1.0"/>
<rect x="1307.30" y="2105.50" width="20.10" height="32.20" fill="#a09fa4" stroke="#88888a" stroke-width="1.0"/>
<rect x="1340.00" y="2114.75" width="20.10" height="22.95" fill="#a09fa4" stroke="#88888a" stroke-width="1.0"/>
<line x1="819.75" y1="1858.85" x2="819.75" y2="2138.85" stroke="#000" stroke-width="2.3" stroke-linecap="butt"/>
<line x1="805.35" y1="2137.70" x2="1377.00" y2="2137.70" stroke="#000" stroke-width="2.3" stroke-linecap="butt"/>
<line x1="805.35" y1="2137.70" x2="819.75" y2="2137.70" stroke="#000" stroke-width="2.3" stroke-linecap="butt"/>
<text font-size="29.7" text-anchor="end" transform="translate(801.75 2146.40) scale(1 1.045)" fill="#000">0</text>
<line x1="805.35" y1="2082.16" x2="819.75" y2="2082.16" stroke="#000" stroke-width="2.3" stroke-linecap="butt"/>
<text font-size="29.7" text-anchor="end" transform="translate(801.75 2090.86) scale(1 1.045)" fill="#000">10</text>
<line x1="805.35" y1="2026.62" x2="819.75" y2="2026.62" stroke="#000" stroke-width="2.3" stroke-linecap="butt"/>
<text font-size="29.7" text-anchor="end" transform="translate(801.75 2035.32) scale(1 1.045)" fill="#000">20</text>
<line x1="805.35" y1="1971.08" x2="819.75" y2="1971.08" stroke="#000" stroke-width="2.3" stroke-linecap="butt"/>
<text font-size="29.7" text-anchor="end" transform="translate(801.75 1979.78) scale(1 1.045)" fill="#000">30</text>
<line x1="805.35" y1="1915.54" x2="819.75" y2="1915.54" stroke="#000" stroke-width="2.3" stroke-linecap="butt"/>
<text font-size="29.7" text-anchor="end" transform="translate(801.75 1924.24) scale(1 1.045)" fill="#000">40</text>
<line x1="805.35" y1="1860.00" x2="819.75" y2="1860.00" stroke="#000" stroke-width="2.3" stroke-linecap="butt"/>
<text font-size="29.7" text-anchor="end" transform="translate(801.75 1868.70) scale(1 1.045)" fill="#000">50</text>
<line x1="846.75" y1="2137.70" x2="846.75" y2="2151.90" stroke="#000" stroke-width="2.3" stroke-linecap="butt"/>
<line x1="879.50" y1="2137.70" x2="879.50" y2="2151.90" stroke="#000" stroke-width="2.3" stroke-linecap="butt"/>
<line x1="912.25" y1="2137.70" x2="912.25" y2="2151.90" stroke="#000" stroke-width="2.3" stroke-linecap="butt"/>
<line x1="945.00" y1="2137.70" x2="945.00" y2="2151.90" stroke="#000" stroke-width="2.3" stroke-linecap="butt"/>
<line x1="977.75" y1="2137.70" x2="977.75" y2="2151.90" stroke="#000" stroke-width="2.3" stroke-linecap="butt"/>
<line x1="1031.12" y1="2137.70" x2="1031.12" y2="2151.90" stroke="#000" stroke-width="2.3" stroke-linecap="butt"/>
<line x1="1063.87" y1="2137.70" x2="1063.87" y2="2151.90" stroke="#000" stroke-width="2.3" stroke-linecap="butt"/>
<line x1="1096.62" y1="2137.70" x2="1096.62" y2="2151.90" stroke="#000" stroke-width="2.3" stroke-linecap="butt"/>
<line x1="1129.37" y1="2137.70" x2="1129.37" y2="2151.90" stroke="#000" stroke-width="2.3" stroke-linecap="butt"/>
<line x1="1162.12" y1="2137.70" x2="1162.12" y2="2151.90" stroke="#000" stroke-width="2.3" stroke-linecap="butt"/>
<line x1="1215.49" y1="2137.70" x2="1215.49" y2="2151.90" stroke="#000" stroke-width="2.3" stroke-linecap="butt"/>
<line x1="1248.24" y1="2137.70" x2="1248.24" y2="2151.90" stroke="#000" stroke-width="2.3" stroke-linecap="butt"/>
<line x1="1280.99" y1="2137.70" x2="1280.99" y2="2151.90" stroke="#000" stroke-width="2.3" stroke-linecap="butt"/>
<line x1="1313.74" y1="2137.70" x2="1313.74" y2="2151.90" stroke="#000" stroke-width="2.3" stroke-linecap="butt"/>
<line x1="1346.49" y1="2137.70" x2="1346.49" y2="2151.90" stroke="#000" stroke-width="2.3" stroke-linecap="butt"/>
<text font-size="29.8" text-anchor="end" transform="translate(850.50 2165.00) rotate(-45) scale(1 1.045)" fill="#000">nothing</text>
<text font-size="29.8" text-anchor="end" transform="translate(884.80 2169.70) rotate(-45) scale(1 1.045)" fill="#000">MSU (lot 1)</text>
<text font-size="29.8" text-anchor="end" transform="translate(917.85 2169.70) rotate(-45) scale(1 1.045)" fill="#000">MSU (lot 2)</text>
<text font-size="29.8" text-anchor="end" transform="translate(950.90 2169.70) rotate(-45) scale(1 1.045)" fill="#000">MSU (lot 3)</text>
<text font-size="29.8" text-anchor="end" transform="translate(987.90 2166.00) rotate(-45) scale(1 1.045)" fill="#000">PC-agarose</text>
<text font-size="29.8" text-anchor="end" transform="translate(1038.45 2165.00) rotate(-45) scale(1 1.045)" fill="#000">nothing</text>
<text font-size="29.8" text-anchor="end" transform="translate(1072.75 2169.70) rotate(-45) scale(1 1.045)" fill="#000">MSU (lot 1)</text>
<text font-size="29.8" text-anchor="end" transform="translate(1105.80 2169.70) rotate(-45) scale(1 1.045)" fill="#000">MSU (lot 2)</text>
<text font-size="29.8" text-anchor="end" transform="translate(1138.85 2169.70) rotate(-45) scale(1 1.045)" fill="#000">MSU (lot 3)</text>
<text font-size="29.8" text-anchor="end" transform="translate(1175.85 2166.00) rotate(-45) scale(1 1.045)" fill="#000">PC-agarose</text>
<text font-size="29.8" text-anchor="end" transform="translate(1226.40 2165.00) rotate(-45) scale(1 1.045)" fill="#000">nothing</text>
<text font-size="29.8" text-anchor="end" transform="translate(1260.70 2169.70) rotate(-45) scale(1 1.045)" fill="#000">MSU (lot 1)</text>
<text font-size="29.8" text-anchor="end" transform="translate(1293.75 2169.70) rotate(-45) scale(1 1.045)" fill="#000">MSU (lot 2)</text>
<text font-size="29.8" text-anchor="end" transform="translate(1326.80 2169.70) rotate(-45) scale(1 1.045)" fill="#000">MSU (lot 3)</text>
<text font-size="29.8" text-anchor="end" transform="translate(1363.80 2166.00) rotate(-45) scale(1 1.045)" fill="#000">PC-agarose</text>
<text font-size="29.7" text-anchor="middle" transform="translate(747.10 2003.00) rotate(-90) scale(1 1.045)" fill="#000">Albumin (mg/ml)</text>
<text font-size="29.7" text-anchor="middle" transform="translate(906.90 1810.00) scale(1 1.045)" fill="#000">Remaining</text>
<text font-size="29.7" text-anchor="middle" transform="translate(906.90 1847.00) scale(1 1.045)" fill="#000">in serum</text>
<line x1="827.50" y1="1857.00" x2="987.00" y2="1857.00" stroke="#262626" stroke-width="2.0" stroke-linecap="butt"/>
<text font-size="29.7" text-anchor="middle" transform="translate(1092.50 1828.30) scale(1 1.045)" fill="#000">Wash 1x</text>
<line x1="1018.25" y1="1857.00" x2="1178.00" y2="1857.00" stroke="#262626" stroke-width="2.0" stroke-linecap="butt"/>
<text font-size="29.7" text-anchor="middle" transform="translate(1289.60 1809.50) scale(1 1.045)" fill="#000">Elution 1x</text>
<text font-size="29.7" text-anchor="middle" transform="translate(1289.10 1847.00) scale(1 1.045)" fill="#000">5 mM EDTA</text>
<line x1="1210.00" y1="1857.00" x2="1370.00" y2="1857.00" stroke="#262626" stroke-width="2.0" stroke-linecap="butt"/>
<text font-size="58" transform="translate(1433.10 1773.50) scale(1 1.045)" fill="#111114">e</text>
<defs>
<linearGradient id="gelbg" x1="0" y1="0" x2="0" y2="1">
<stop offset="0" stop-color="#8fb7c8"/>
<stop offset="0.07" stop-color="#95bbcc"/>
<stop offset="0.17" stop-color="#a4c8d4"/>
<stop offset="0.27" stop-color="#b0d3d9"/>
<stop offset="0.36" stop-color="#b6dade"/>
<stop offset="0.5" stop-color="#bee2e5"/>
<stop offset="0.65" stop-color="#c0e4e8"/>
<stop offset="0.85" stop-color="#bde1e5"/>
<stop offset="1" stop-color="#b2d6e0"/>
</linearGradient>
<linearGradient id="gelh" x1="0" y1="0" x2="1" y2="0">
<stop offset="0" stop-color="#ffffff" stop-opacity="0"/>
<stop offset="0.8" stop-color="#5a8fc0" stop-opacity="0.06"/>
<stop offset="1" stop-color="#5a8fc0" stop-opacity="0.10"/>
</linearGradient>
<filter id="b1" x="-30%" y="-100%" width="160%" height="300%"><feGaussianBlur stdDeviation="0.9"/></filter>
<filter id="b2" x="-30%" y="-100%" width="160%" height="300%"><feGaussianBlur stdDeviation="1.6"/></filter>
<filter id="b3" x="-30%" y="-100%" width="160%" height="300%"><feGaussianBlur stdDeviation="2.6"/></filter>
</defs>
<rect x="1544.5" y="1763" width="91" height="520.5" fill="url(#gelbg)"/>
<g filter="url(#b1)">
<rect x="1549.2" y="1763.6" width="19.3" height="3.3" fill="#cfe4d8"/>
<rect x="1578.7" y="1763.6" width="19.2" height="3.3" fill="#cfe4d8"/>
<rect x="1608" y="1763.6" width="19" height="3.3" fill="#cfe4d8"/>
</g>

<g filter="url(#b1)" opacity="1.0"><rect x="1547.0" y="1839.4" width="22.5" height="3.1" fill="#3f86d2" opacity="0.35"/><rect x="1547.0" y="1842.3" width="22.5" height="4.3" fill="#3f86d2" opacity="0.85"/><ellipse cx="1549.0" cy="1847.0" rx="2.0" ry="2.7" fill="#3f86d2"/><ellipse cx="1567.5" cy="1847.0" rx="2.0" ry="2.7" fill="#3f86d2"/><ellipse cx="1558.2" cy="1846.8" rx="4.5" ry="2.3" fill="#3f86d2" opacity="0.9"/></g>
<g filter="url(#b1)" opacity="1.0"><rect x="1547.0" y="1869.6" width="22.5" height="2.9" fill="#3b84d2" opacity="0.35"/><rect x="1547.0" y="1872.3" width="22.5" height="4.1" fill="#3b84d2" opacity="0.85"/><ellipse cx="1548.9" cy="1876.7" rx="1.9" ry="2.6" fill="#3b84d2"/><ellipse cx="1567.6" cy="1876.7" rx="1.9" ry="2.6" fill="#3b84d2"/><ellipse cx="1558.2" cy="1876.5" rx="4.5" ry="2.1" fill="#3b84d2" opacity="0.9"/></g>
<g filter="url(#b1)" opacity="1.0"><rect x="1547.0" y="1899.3" width="22.5" height="4.9" fill="#3a86d8" opacity="0.35"/><rect x="1547.0" y="1903.9" width="22.5" height="6.8" fill="#3a86d8" opacity="0.85"/><ellipse cx="1550.2" cy="1911.3" rx="3.2" ry="4.3" fill="#3a86d8"/><ellipse cx="1566.3" cy="1911.3" rx="3.2" ry="4.3" fill="#3a86d8"/><ellipse cx="1558.2" cy="1910.9" rx="4.5" ry="3.6" fill="#3a86d8" opacity="0.9"/></g>
<g filter="url(#b2)" opacity="1.0"><rect x="1546.7" y="1942.1" width="24.8" height="6.2" fill="#5468ae" opacity="0.35"/><rect x="1546.7" y="1947.9" width="24.8" height="8.7" fill="#5468ae" opacity="0.85"/><ellipse cx="1550.8" cy="1957.3" rx="4.1" ry="5.4" fill="#5468ae"/><ellipse cx="1567.4" cy="1957.3" rx="4.1" ry="5.4" fill="#5468ae"/><ellipse cx="1559.1" cy="1956.8" rx="5.0" ry="4.5" fill="#5468ae" opacity="0.9"/></g>
<g filter="url(#b1)" opacity="1.0"><rect x="1546.5" y="1989.3" width="23.5" height="4.5" fill="#2c84de" opacity="0.35"/><rect x="1546.5" y="1993.5" width="23.5" height="6.3" fill="#2c84de" opacity="0.85"/><ellipse cx="1549.5" cy="2000.3" rx="3.0" ry="3.9" fill="#2c84de"/><ellipse cx="1567.0" cy="2000.3" rx="3.0" ry="3.9" fill="#2c84de"/><ellipse cx="1558.2" cy="1999.9" rx="4.7" ry="3.3" fill="#2c84de" opacity="0.9"/></g>
<g filter="url(#b1)" opacity="1.0"><rect x="1546.7" y="2065.1" width="20.8" height="3.8" fill="#5ea5dc" opacity="0.35"/><rect x="1546.7" y="2068.3" width="20.8" height="7.0" fill="#5ea5dc"/></g>
<g filter="url(#b2)" opacity="1.0"><rect x="1544.8" y="2119.0" width="20.6" height="3.3" fill="#a8aabf" opacity="0.35"/><rect x="1544.8" y="2121.7" width="20.6" height="6.0" fill="#a8aabf"/></g>
<g filter="url(#b2)" opacity="1.0"><rect x="1544.5" y="2209.4" width="19.6" height="2.6" fill="#8cbadc" opacity="0.35"/><rect x="1544.5" y="2211.6" width="19.6" height="4.8" fill="#8cbadc"/></g>
<g filter="url(#b2)" opacity="1.0"><rect x="1544.5" y="2221.7" width="18.5" height="2.2" fill="#a8cde2" opacity="0.35"/><rect x="1544.5" y="2223.5" width="18.5" height="4.0" fill="#a8cde2"/></g>
<g filter="url(#b2)" opacity="1.0"><rect x="1575.7" y="2063.5" width="24.3" height="1.7" fill="#a6cfe0" opacity="0.35"/><rect x="1575.7" y="2064.9" width="24.3" height="3.2" fill="#a6cfe0"/></g>
<g filter="url(#b1)" opacity="1.0"><rect x="1570.9" y="2108.5" width="29.9" height="2.8" fill="#3c95e0" opacity="0.35"/><rect x="1570.9" y="2110.8" width="29.9" height="5.1" fill="#3c95e0"/></g>
<g filter="url(#b2)" opacity="1.0"><rect x="1574.0" y="2121.4" width="24.0" height="2.0" fill="#a0cce6" opacity="0.35"/><rect x="1574.0" y="2123.1" width="24.0" height="3.6" fill="#a0cce6"/></g>
<g filter="url(#b1)" opacity="1.0"><rect x="1605.7" y="2110.2" width="25.1" height="1.7" fill="#5caade" opacity="0.35"/><rect x="1605.7" y="2111.6" width="25.1" height="3.1" fill="#5caade"/></g>
<g filter="url(#b2)" opacity="1.0"><rect x="1607.0" y="2123.0" width="22.0" height="1.3" fill="#b0d8e8" opacity="0.35"/><rect x="1607.0" y="2124.1" width="22.0" height="2.5" fill="#b0d8e8"/></g>
<g filter="url(#b1)" opacity="1.0"><rect x="1633.8" y="2110.2" width="2.2" height="1.7" fill="#7ab8e6" opacity="0.35"/><rect x="1633.8" y="2111.6" width="2.2" height="3.1" fill="#7ab8e6"/></g>
<text font-size="29.7" transform="translate(1597.50 1761.80) rotate(-90) scale(1 1.045)" fill="#000">PC-agarose</text>
<text font-size="29.7" transform="translate(1632.00 1759.20) rotate(-90) scale(1 1.045)" fill="#000">MSU (lot 1)</text>
<text font-size="29.7" transform="translate(1445.20 1958.50) scale(1 1.045)" fill="#000">70 kDa</text>
<text font-size="29.7" transform="translate(1447.60 2132.10) scale(1 1.045)" fill="#000">25 kDa</text>
</svg>
</body></html>
